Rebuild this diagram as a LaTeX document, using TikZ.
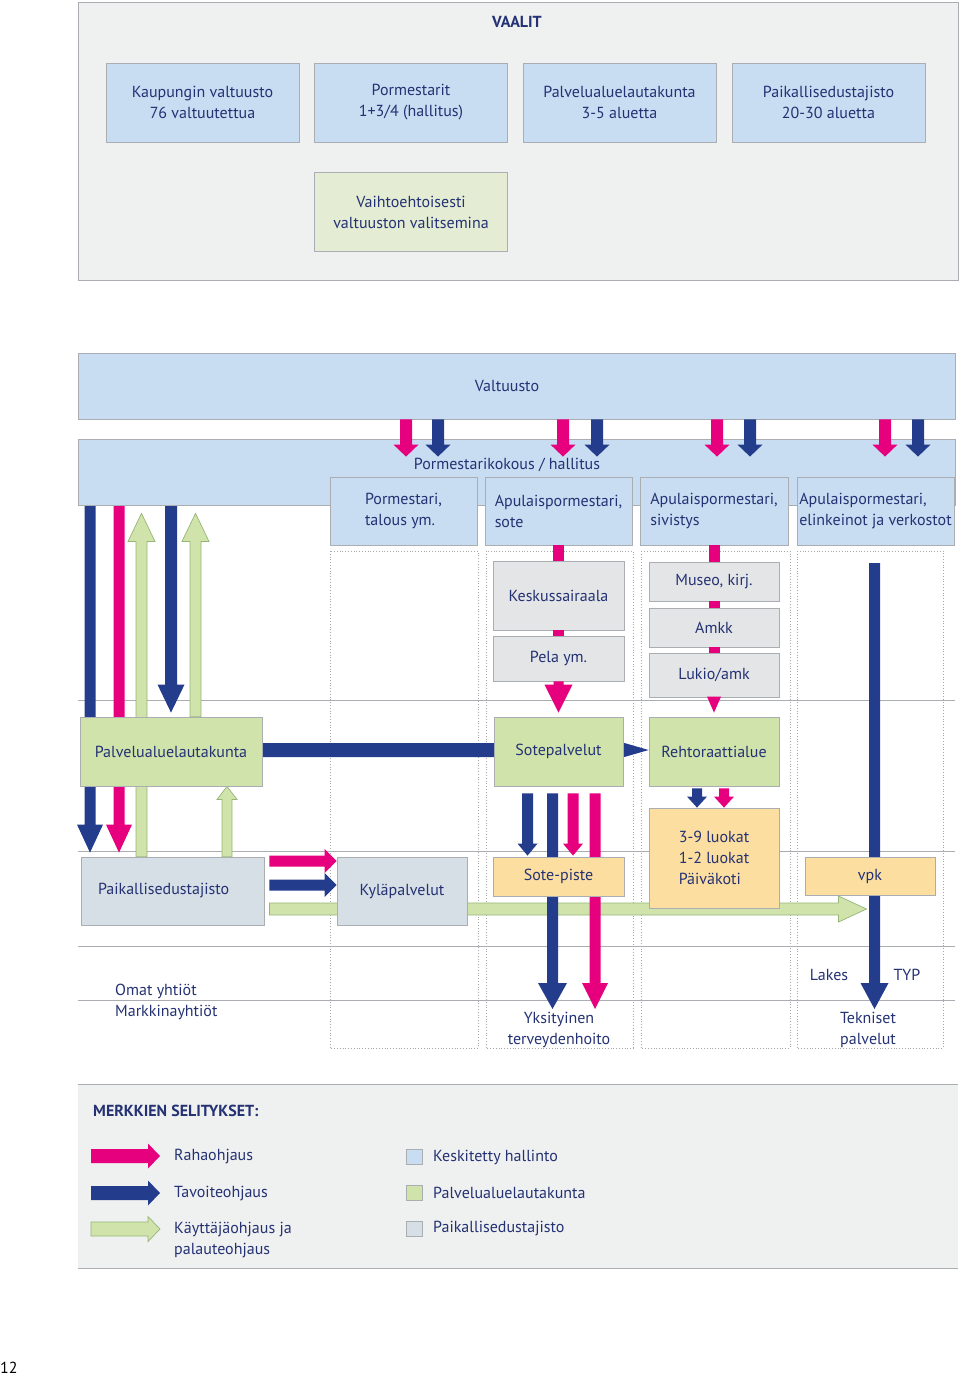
\documentclass[tikz,border=0pt]{standalone}
\usepackage{fontspec}
\setmainfont{PT Sans}
\usepackage{xcolor}
\usetikzlibrary{calc, positioning}

\definecolor{ctext}{RGB}{36,50,115}
\definecolor{bggray}{RGB}{239,240,240}
\definecolor{lineg}{RGB}{170,174,178}
\definecolor{cblue}{RGB}{200,221,242}
\definecolor{cgreen}{RGB}{208,227,170}
\definecolor{cltgreen}{RGB}{228,237,211}
\definecolor{cgrayblue}{RGB}{214,222,230}
\definecolor{cltgray}{RGB}{228,229,231}
\definecolor{corange}{RGB}{252,222,160}
\definecolor{cpink}{RGB}{230,0,126}
\definecolor{cnavy}{RGB}{36,60,140}
\definecolor{cgborder}{RGB}{150,182,120}

\newcommand{\diafont}{\fontsize{16}{21}\selectfont}

\pgfdeclarelayer{back}
\pgfdeclarelayer{arr}
\pgfsetlayers{back,arr,main}

% block arrow: style, from, tip, half shaft, half head, head length
\newcommand{\barrow}[6]{%
  \path (#2) coordinate (ba) (#3) coordinate (bt);
  \path ($(bt)!#6!(ba)$) coordinate (bh);
  \path[#1] ($(ba)!#4!90:(bt)$) -- ($(bh)!#4!90:(bt)$) -- ($(bh)!#5!90:(bt)$) -- (bt)
    -- ($(bh)!#5!-90:(bt)$) -- ($(bh)!#4!-90:(bt)$) -- ($(ba)!#4!-90:(bt)$) -- cycle;
}

\begin{document}
\begin{tikzpicture}[x=1pt, y=-1pt,
    txt/.style={font=\diafont, text=ctext, inner sep=1pt},
    box/.style={draw=lineg, line width=0.8, inner sep=2pt, font=\diafont, text=ctext},
    bluebox/.style={box, fill=cblue},
    greenbox/.style={box, fill=cgreen},
    grayblue/.style={box, fill=cgrayblue},
    graybox/.style={box, fill=cltgray},
    orangebox/.style={box, fill=corange},
    sq/.style={draw=lineg, line width=0.6, minimum width=16, minimum height=15, inner sep=0},
    pinkbar/.style={draw=cpink, line width=11},
    gfillst/.style={fill=cgreen, draw=cgborder, line width=0.7},
    dotline/.style={draw=gray!70, line width=0.8, dotted},
    hline/.style={draw=lineg, line width=0.8}
]
\useasboundingbox (0,0) rectangle (960,1380);

% Vaalit
\draw[fill=bggray, draw=lineg, line width=0.8] (78,2) rectangle (958,280);
\node[txt, font=\diafont\bfseries] (vaalit) at (517,22) {VAALIT};
\foreach \i/\cx/\txt in {1/202.5/{Kaupungin valtuusto\\76 valtuutettua}, 2/411/{Pormestarit\\1+3/4 (hallitus)}, 3/619.5/{Palvelualuelautakunta\\3-5 aluetta}, 4/828.5/{Paikallisedustajisto\\20-30 aluetta}} {
    \node[bluebox, align=center, minimum width=193, minimum height=79] (v\i) at (\cx,102.5) {\txt};
}
\node[box, fill=cltgreen, align=center, minimum width=193, minimum height=79] (vaiht) at (411,212) {Vaihtoehtoisesti\\valtuuston valitsemina};

% Grid of columns
\begin{pgfonlayer}{back}
\foreach \a/\b in {330/478, 486/633, 641/790, 797/943} {
    \draw[dotline] (\a,551) rectangle (\b,1048);
}
\foreach \y in {700, 851, 946, 1000} {
    \draw[hline] (78,\y) -- (955,\y);
}
\end{pgfonlayer}

% Valtuusto and hallitus
\node[bluebox, minimum width=877, minimum height=66] (valt) at (516.5,386) {};
\node[txt] (valtt) at (507,386) {Valtuusto};
\node[bluebox, minimum width=877, minimum height=66] (pk) at (516.5,472) {};
\node[txt] (pkt) at (507,465) {Pormestarikokous / hallitus};
\foreach \i/\cx/\w/\txt in {1/403.5/147/{Pormestari,\\talous ym.}, 2/558.5/147/{Apulaispormestari,\\sote}, 3/714/148/{Apulaispormestari,\\sivistys}, 4/875.5/157/{Apulaispormestari,\\elinkeinot ja verkostot}} {
    \node[bluebox, align=left, minimum width=\w, minimum height=68, inner sep=0] (ap\i) at (\cx,511) {\txt};
}

% Laitokset
\node[graybox, minimum width=131, minimum height=69] (kes) at (558.5,595.5) {Keskussairaala};
\node[graybox, minimum width=131, minimum height=45] (pela) at (558.5,658.5) {Pela ym.};
\node[graybox, minimum width=130, minimum height=39] (museo) at (714,581.5) {Museo, kirj.};
\node[graybox, minimum width=130, minimum height=39] (amkk) at (714,627.5) {Amkk};
\node[graybox, minimum width=130, minimum height=44] (lukio) at (714,675) {Lukio/amk};

% Palvelualue
\node[greenbox, minimum width=182, minimum height=69] (pal) at (171,751.5) {Palvelualuelautakunta};
\node[greenbox, minimum width=129, minimum height=69] (sotep) at (558.5,751.5) {Sotepalvelut};
\node[greenbox, minimum width=130, minimum height=69] (reh) at (714,751.5) {Rehtoraattialue};

% Lähipalvelut
\node[grayblue, align=left, text width=149pt, inner xsep=17pt, minimum height=68] (pai) at (172.5,891) {Paikallisedustajisto};
\node[grayblue, minimum width=130, minimum height=68] (kyla) at (402,891) {Kyläpalvelut};
\node[orangebox, minimum width=131, minimum height=39] (sotepiste) at (558.5,876.5) {Sote-piste};
\node[orangebox, align=left, minimum width=130, minimum height=100] (luokat) at (714,858) {3-9 luokat\\1-2 luokat\\Päiväkoti};
\node[orangebox, minimum width=130, minimum height=38] (vpk) at (870,876) {vpk};

% Yhtiöt
\node[txt, align=left, anchor=west] (omat) at (114,1002) {Omat yhtiöt\\Markkinayhtiöt};
\node[txt, align=center] (yksi) at (559,1030) {Yksityinen\\terveydenhoito};
\node[txt] (lakes) at (829,975) {Lakes};
\node[txt] (typ) at (907,975) {TYP};
\node[txt, align=center] (tekn) at (868,1030) {Tekniset\\palvelut};
\coordinate (vtop) at (874.5,563);

% Arrows behind the boxes
\begin{pgfonlayer}{arr}
\barrow{fill=cnavy}{pk.south -| 90,0}{$(pai.north -| 90,0)+(0,-4)$}{5.5pt}{13pt}{28pt}
\barrow{fill=cpink}{pk.south -| 119,0}{$(pai.north -| 119,0)+(0,-4)$}{5.5pt}{13pt}{28pt}
\barrow{gfillst}{pai.north -| 141.5,0}{$(pk.south -| 141.5,0)+(0,8)$}{5.5pt}{13.5pt}{28pt}
\barrow{fill=cnavy}{pk.south -| 171,0}{$(pal.north -| 171,0)+(0,-4)$}{6pt}{13.5pt}{28pt}
\barrow{gfillst}{pal.north -| 195.5,0}{$(pk.south -| 195.5,0)+(0,8)$}{5.5pt}{13.5pt}{28pt}
\barrow{gfillst}{pai.north -| 227,0}{pal.south -| 227,0}{5pt}{10pt}{13pt}
\barrow{fill=cnavy}{pal.east |- 0,750}{reh.west |- 0,750}{7pt}{7.5pt}{26pt}
\barrow{fill=cpink}{$(pai.east |- 0,861)+(5,0)$}{kyla.west |- 0,861}{5.5pt}{12pt}{12pt}
\barrow{fill=cnavy}{$(pai.east |- 0,885)+(5,0)$}{kyla.west |- 0,885}{5.5pt}{12pt}{12pt}
\barrow{gfillst}{$(pai.east |- 0,909)+(5,0)$}{$(vtop |- 0,909)+(-8,0)$}{6pt}{13pt}{28pt}
\barrow{fill=cnavy}{$(sotep.south -| 527.5,0)+(0,7)$}{$(sotepiste.north -| 527.5,0)+(0,-1)$}{5.5pt}{10pt}{12pt}
\barrow{fill=cnavy}{$(sotep.south -| 552.5,0)+(0,7)$}{$(yksi.north -| 552.5,0)+(0,-2)$}{5.5pt}{14.5pt}{26pt}
\barrow{fill=cpink}{$(sotep.south -| 573,0)+(0,7)$}{$(sotepiste.north -| 573,0)+(0,-1)$}{5.5pt}{10pt}{12pt}
\barrow{fill=cpink}{$(sotep.south -| 595,0)+(0,7)$}{$(yksi.north -| 595,0)+(0,-2)$}{5.5pt}{13pt}{26pt}
\barrow{fill=cnavy}{$(reh.south -| 697,0)+(0,2)$}{luokat.north -| 697,0}{5pt}{10pt}{11pt}
\barrow{fill=cpink}{$(reh.south -| 724,0)+(0,2)$}{luokat.north -| 724,0}{5pt}{10pt}{11pt}
\barrow{fill=cnavy}{vtop}{$(tekn.north -| vtop)+(0,-2)$}{5.5pt}{14pt}{26pt}
\end{pgfonlayer}

% Valtuusto -> hallitus
\foreach \x/\c in {406/cpink, 438/cnavy, 563/cpink, 597/cnavy, 717/cpink, 750/cnavy, 885/cpink, 918/cnavy} {
    \barrow{fill=\c}{valt.south -| \x,0}{$(pk.north -| \x,0)+(0,18)$}{6pt}{12.5pt}{12pt}
}
% rahoitus
\draw[pinkbar] (ap2.south -| kes.north) -- (kes.north);
\draw[pinkbar] (kes.south) -- (pela.north);
\barrow{fill=cpink}{pela.south}{$(sotep.north)+(0,-4)$}{5pt}{14pt}{28pt}
\draw[pinkbar] (ap3.south -| museo.north) -- (museo.north);
\draw[pinkbar] (museo.south) -- (amkk.north);
\draw[pinkbar] (amkk.south) -- (lukio.north);
\barrow{fill=cpink}{lukio.south}{$(reh.north)+(0,-4)$}{0pt}{7pt}{16pt}

% Legend
\fill[bggray] (78,1084) rectangle (958,1268);
\draw[hline] (78,1084) -- (958,1084);
\draw[hline] (78,1268) -- (958,1268);
\node[txt, font=\diafont\bfseries, anchor=west] (merk) at (92,1111) {MERKKIEN SELITYKSET:};
\node[txt, anchor=west] (raha) at (173,1157) {Rahaohjaus};
\node[txt, anchor=west] (tavo) at (173,1194) {Tavoiteohjaus};
\node[txt, anchor=west, align=left] (kayt) at (173,1240) {Käyttäjäohjaus ja\\palauteohjaus};
\barrow{fill=cpink}{$(raha.west)+(-82,-1)$}{$(raha.west)+(-13,-1)$}{7pt}{12.5pt}{12pt}
\barrow{fill=cnavy}{$(tavo.west)+(-82,-1)$}{$(tavo.west)+(-13,-1)$}{7pt}{12.5pt}{12pt}
\barrow{gfillst}{$(kayt.west)+(-82,-11)$}{$(kayt.west)+(-13,-11)$}{7pt}{12.5pt}{12pt}
\foreach \i/\y/\clr/\txt in {1/1157/cblue/{Keskitetty hallinto}, 2/1193/cgreen/{Palvelualuelautakunta}, 3/1229/cgrayblue/{Paikallisedustajisto}} {
    \node[sq, fill=\clr] (sq\i) at (414,\y) {};
    \node[txt, anchor=west] (sql\i) at (432,\y) {\txt};
}

\node[font=\fontsize{16}{18}\selectfont, anchor=west, inner sep=0] (pnum) at (0,1368) {12};
\end{tikzpicture}
\end{document}
